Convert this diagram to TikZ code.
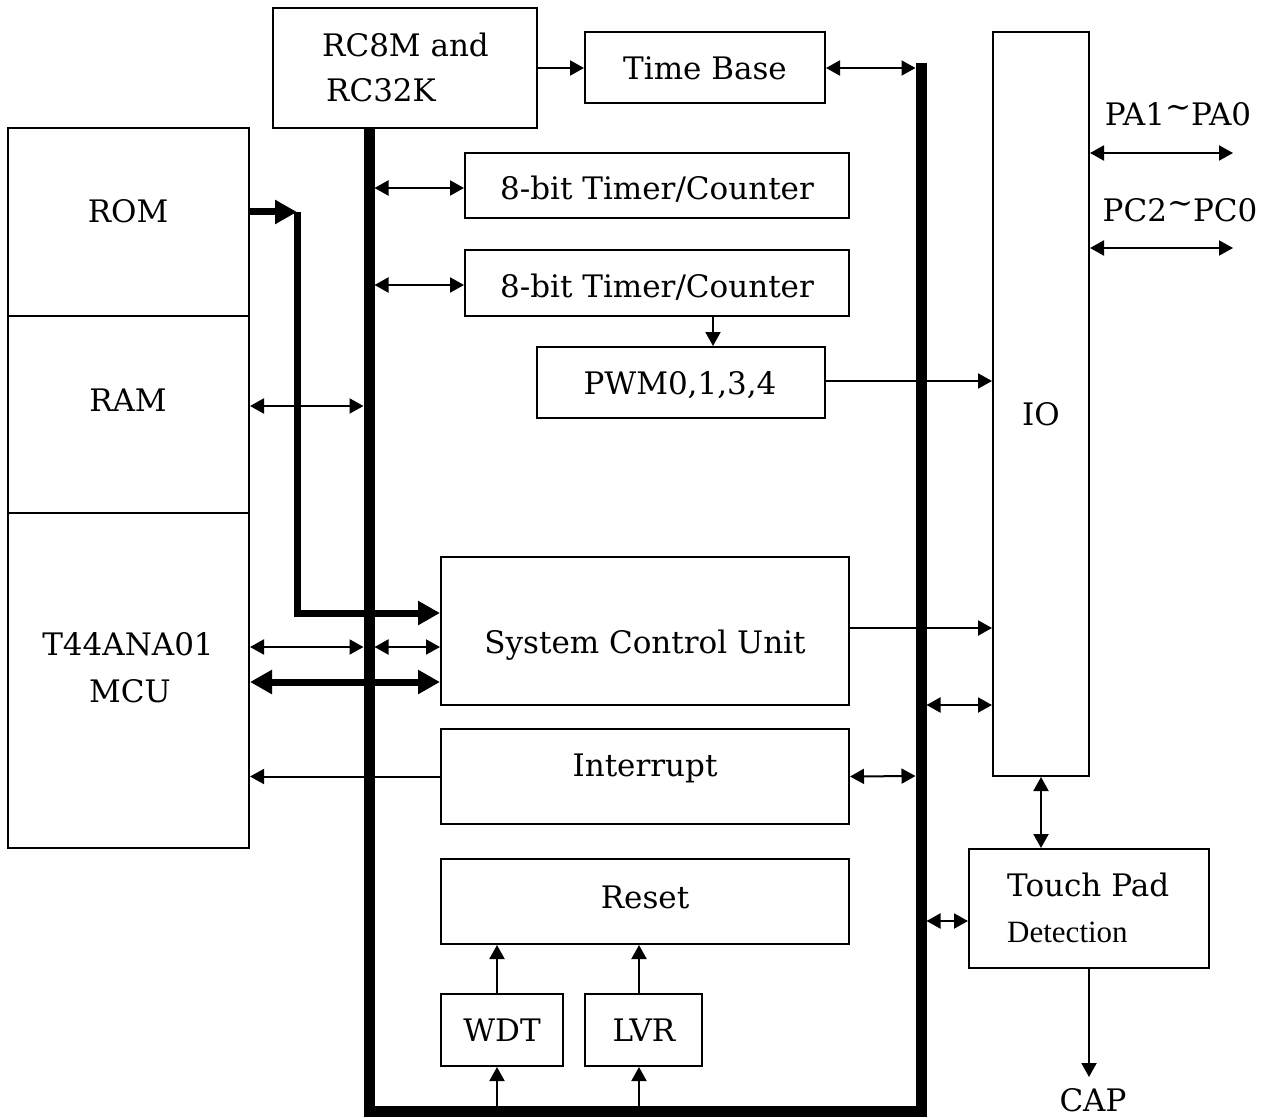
\documentclass[tikz,border=0pt]{standalone}
\usepackage{fontspec}
\setmainfont{DejaVu Serif}
\newfontfamily\tmsfont{Liberation Serif}
\usetikzlibrary{arrows.meta}
\newcommand{\uptilde}{\raisebox{8pt}{\textasciitilde}}
\begin{document}
\begin{tikzpicture}[x=1pt,y=-1pt,
  blk/.style={draw,line width=2pt,inner sep=0pt,rectangle},
  lbl/.style={inner sep=0pt,font=\fontsize{31}{36}\selectfont,anchor=base},
  lbll/.style={lbl,anchor=base west},
  conn/.style={line width=2pt},
  fat/.style={line width=7pt},
  bus/.style={line width=11pt,line join=miter},
  >={Triangle[length=14pt,width=15pt]},
  bigtip/.tip={Triangle[length=22pt,width=23pt]}
]
\useasboundingbox (0,0) rectangle (1269,1118);

% blocks
\node[blk,minimum width=241pt,minimum height=188pt] (rom) at (128.5,222) {};
\node[blk,minimum width=241pt,minimum height=197pt] (ram) at (128.5,414.5) {};
\node[blk,minimum width=241pt,minimum height=335pt] (mcu) at (128.5,680.5) {};
\node[blk,minimum width=264pt,minimum height=120pt] (rc) at (405,68) {};
\node[blk,minimum width=240pt,minimum height=71pt] (tb) at (705,68) {};
\node[blk,minimum width=384pt,minimum height=65pt] (t1) at (657,185.5) {};
\node[blk,minimum width=384pt,minimum height=66pt] (t2) at (657,283) {};
\node[blk,minimum width=288pt,minimum height=71pt] (pwm) at (681,382.5) {};
\node[blk,minimum width=96pt,minimum height=744pt] (io) at (1041,404) {};
\node[blk,minimum width=408pt,minimum height=148pt] (scu) at (645,631) {};
\node[blk,minimum width=408pt,minimum height=95pt] (int) at (645,776.5) {};
\node[blk,minimum width=408pt,minimum height=85pt] (rst) at (645,901.5) {};
\node[blk,minimum width=122pt,minimum height=72pt] (wdt) at (502,1030) {};
\node[blk,minimum width=117pt,minimum height=72pt] (lvr) at (643.5,1030) {};
\node[blk,minimum width=240pt,minimum height=119pt] (tp) at (1089,908.5) {};

% labels
\node[lbl] (romt) at (128,223) {ROM};
\node[lbl] (ramt) at (128,411) {RAM};
\node[lbl] (mcut1) at (128,655) {T44ANA01};
\node[lbl] (mcut2) at (130,702) {MCU};
\node[lbll] (rct1) at (322,57) {RC8M and};
\node[lbll] (rct2) at (326,102) {RC32K};
\node[lbl] (tbt) at (705,80) {Time Base};
\node[lbl] (t1t) at (657,200) {8-bit Timer/Counter};
\node[lbl] (t2t) at (657,297) {8-bit Timer/Counter};
\node[lbl] (pwmt) at (680,394) {PWM0,1,3,4};
\node[lbl] (iot) at (1041,425) {IO};
\node[lbl] (pat) at (1178,126) {PA1\uptilde PA0};
\node[lbl] (pct) at (1180,222) {PC2\uptilde PC0};
\node[lbl] (scut) at (645,653) {System Control Unit};
\node[lbl] (intt) at (645,776) {Interrupt};
\node[lbl] (rstt) at (645,908) {Reset};
\node[lbl] (wdtt) at (502,1041) {WDT};
\node[lbl] (lvrt) at (644,1041) {LVR};
\node[lbll] (tpt1) at (1007,896) {Touch Pad};
\node[lbll,font=\tmsfont\fontsize{31}{36}\selectfont] (tpt2) at (1007,942) {Detection};
\node[lbl] (capt) at (1093,1111) {CAP};

% buses
\coordinate (bl) at (369,128);
\coordinate (bbl) at (369,1111);
\coordinate (bbr) at (921,1111);
\coordinate (br) at (921,63);
\draw[bus] (bl) -- (bbl) -- (bbr) -- (br);

% bus attach points
\coordinate (bTB) at (915.5,68);
\coordinate (bT1) at (374.5,188);
\coordinate (bT2) at (374.5,285);
\coordinate (bRAM) at (363.5,406);
\coordinate (bM1) at (363.5,647);
\coordinate (bM2) at (374.5,647);
\coordinate (bIO) at (926.5,705);
\coordinate (bINT) at (915.5,776);
\coordinate (bTP) at (926.5,921);
\coordinate (bW) at (497,1105.5);
\coordinate (bL) at (639,1105.5);
\coordinate (romk) at (297,212);
\coordinate (pa) at (1233,153);
\coordinate (pc) at (1233,248);
\coordinate (capa) at (1089,1077);

% connectors
\draw[conn,->] (rc.east |- tb) -- (tb.west);
\draw[conn,<->] (tb.east) -- (bTB);
\draw[conn,<->] (bT1) -- (t1.west |- bT1);
\draw[conn,<->] (bT2) -- (t2.west |- bT2);
\draw[conn,->] (t2.south -| 713,0) -- (pwm.north -| 713,0);
\draw[conn,->] (pwm.east |- 0,381) -- (io.west |- 0,381);
\draw[conn,<->] (io.east |- pa) -- (pa);
\draw[conn,<->] (io.east |- pc) -- (pc);
\draw[fat,-bigtip] (rom.east |- romk) -- (romk);
\draw[fat,-bigtip,line join=miter] (romk) -- (297,613) -- (scu.west |- 0,613);
\draw[conn,<->] (ram.east |- bRAM) -- (bRAM);
\draw[conn,<->] (mcu.east |- bM1) -- (bM1);
\draw[conn,<->] (bM2) -- (scu.west |- bM2);
\draw[fat,bigtip-bigtip] (mcu.east |- 0,682) -- (scu.west |- 0,682);
\draw[conn,->] (scu.east |- 0,628) -- (io.west |- 0,628);
\draw[conn,<->] (bIO) -- (io.west |- bIO);
\draw[conn,->] (int.west) -- (mcu.east |- int.west);
\draw[conn,<->] (int.east) -- (bINT);
\draw[conn,->] (wdt.north -| bW) -- (rst.south -| bW);
\draw[conn,->] (lvr.north -| bL) -- (rst.south -| bL);
\draw[conn,->] (bW) -- (wdt.south -| bW);
\draw[conn,->] (bL) -- (lvr.south -| bL);
\draw[conn,<->] (io.south) -- (tp.north -| io.south);
\draw[conn,<->] (bTP) -- (tp.west |- bTP);
\draw[conn,->] (tp.south) -- (capa);
\end{tikzpicture}
\end{document}
